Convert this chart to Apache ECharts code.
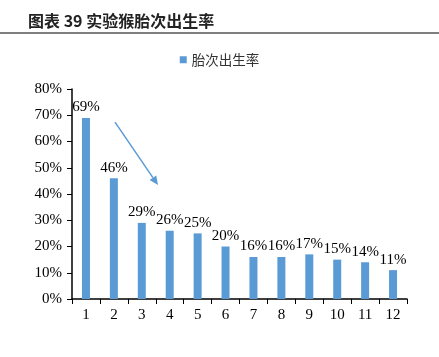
<!DOCTYPE html>
<html><head><meta charset="utf-8">
<script src="https://cdn.jsdelivr.net/npm/echarts@6/dist/echarts.min.js"></script>
<style>html,body{margin:0;padding:0;background:#fff}#c{width:439px;height:357px}</style>
</head><body><div id="c"></div>
<script>
const categories = ['1','2','3','4','5','6','7','8','9','10','11','12'];
const birthRate = [69, 46, 29, 26, 25, 20, 16, 16, 17, 15, 14, 11];
const yTicks = [0, 10, 20, 30, 40, 50, 60, 70, 80];
const seriesName = '胎次出生率';
const titleText = '图表 39 实验猴胎次出生率';

const chart = echarts.init(document.getElementById('c'), null, {renderer: 'canvas'});
const serif = '"Liberation Serif", "Times New Roman", serif';
chart.setOption({
  animation: false,
  title: {
    text: titleText, left: 23, top: 8,
    textStyle: {fontFamily: '"Noto Sans CJK SC", sans-serif', fontSize: 16, fontWeight: 'bold', color: '#222'}
  },
  legend: {
    data: [seriesName], top: 48, left: 'center',
    icon: 'rect', itemWidth: 7, itemHeight: 7, itemGap: 5,
    textStyle: {fontFamily: '"Noto Sans CJK SC", sans-serif', fontSize: 13.5, color: '#333'}
  },
  grid: {left: 72, right: 32, top: 89, bottom: 58},
  xAxis: {
    type: 'category', data: categories,
    axisLine: {lineStyle: {color: '#000', width: 1.5}},
    axisTick: {show: true, alignWithLabel: false, length: 5, lineStyle: {color: '#000'}},
    axisLabel: {fontFamily: serif, fontSize: 15, color: '#000', margin: 9}
  },
  yAxis: {
    type: 'value', min: yTicks[0], max: yTicks[yTicks.length - 1], interval: 10,
    splitLine: {show: false},
    axisLine: {show: true, lineStyle: {color: '#000', width: 1.5}},
    axisTick: {show: true, length: 5, lineStyle: {color: '#000'}},
    axisLabel: {fontFamily: serif, fontSize: 15, color: '#000', margin: 10, formatter: v => v + '%'}
  },
  series: [{
    name: seriesName, type: 'bar', data: birthRate, barWidth: 8,
    itemStyle: {color: '#5B9BD5'},
    label: {show: true, position: 'top', distance: 3, fontFamily: serif, fontSize: 15, color: '#000', formatter: p => p.value + '%'}
  }]
});

// Title separator and trend arrow annotation
const p1 = chart.convertToPixel({gridIndex: 0}, [1, 67.4]);
const p1b = chart.convertToPixel({gridIndex: 0}, [2, 67.4]);
const p2 = chart.convertToPixel({gridIndex: 0}, [2, 43.4]);
const step = p1b[0] - p1[0];
const x1 = p1[0] + 0.04 * step, y1 = p1[1];
const x2 = p2[0] + 0.58 * step, y2 = p2[1];
const ang = Math.atan2(y2 - y1, x2 - x1);
const hl = 9, hw = 4;
const bx = x2 - hl * Math.cos(ang), by = y2 - hl * Math.sin(ang);
const nx = -Math.sin(ang), ny = Math.cos(ang);
chart.setOption({
  graphic: [
    {type: 'line', shape: {x1: 0, y1: 33, x2: 439, y2: 33}, style: {stroke: '#555', lineWidth: 1.5}},
    {type: 'line', shape: {x1: x1, y1: y1, x2: bx, y2: by}, style: {stroke: '#5B9BD5', lineWidth: 1.5}},
    {type: 'polygon', shape: {points: [[x2, y2], [bx + nx * hw, by + ny * hw], [bx - nx * hw, by - ny * hw]]}, style: {fill: '#5B9BD5'}}
  ]
});
</script>
</body></html>
